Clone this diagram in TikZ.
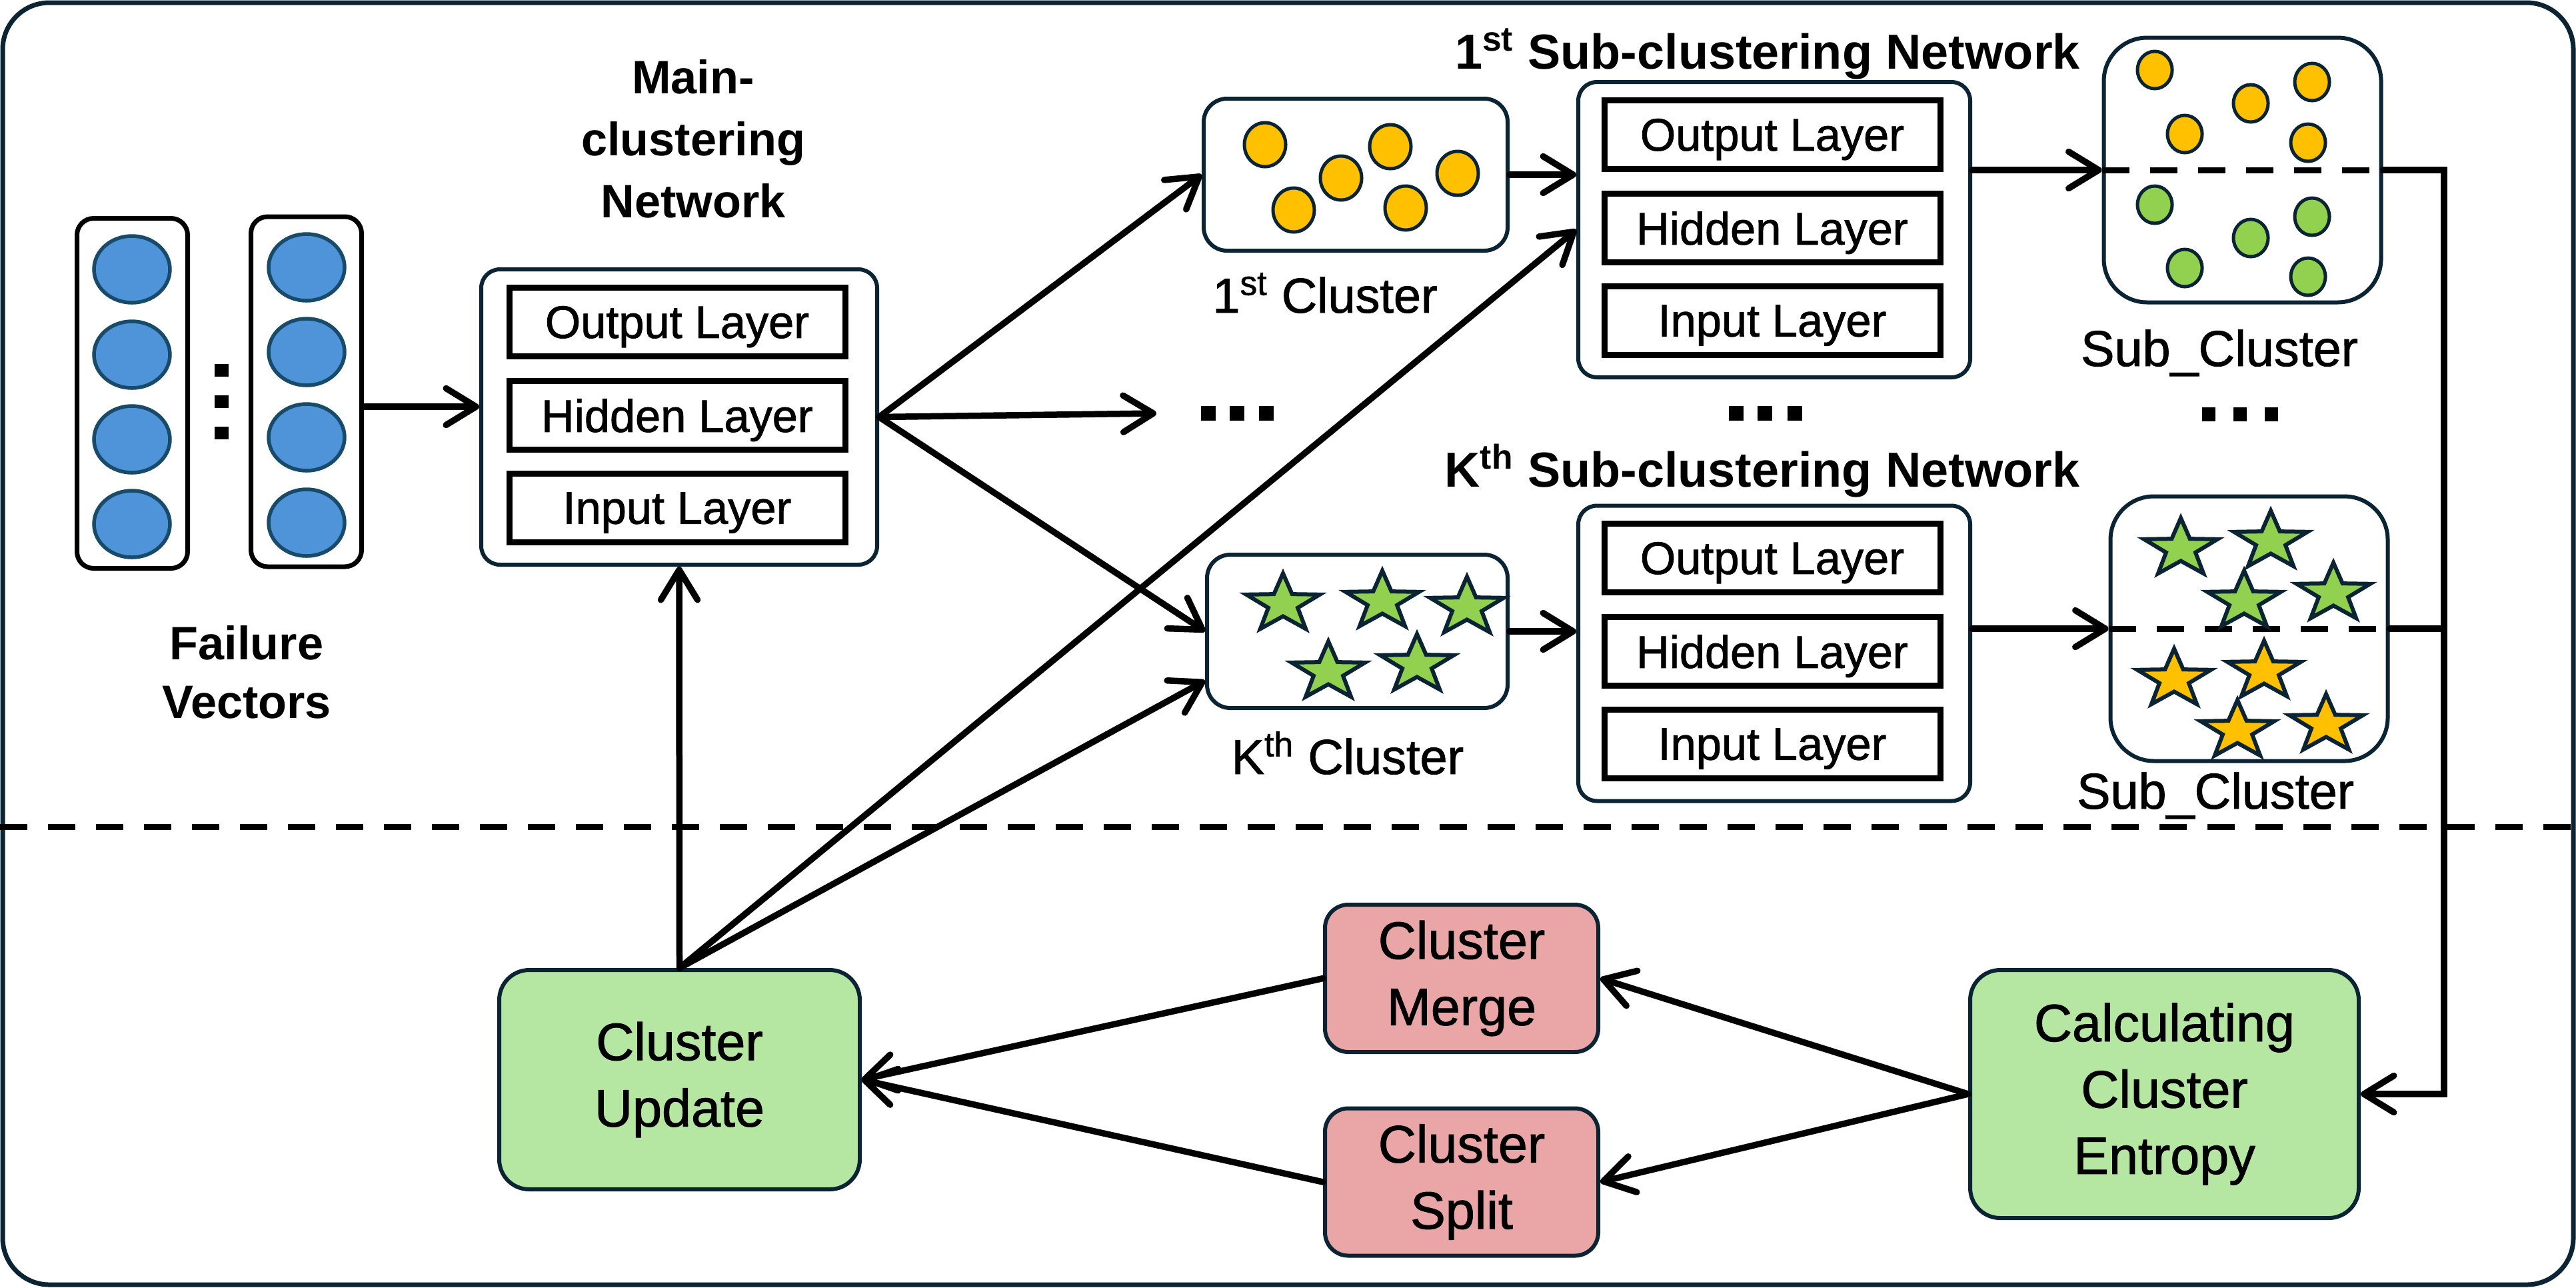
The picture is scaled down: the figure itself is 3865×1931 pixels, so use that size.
\documentclass[tikz,border=0pt]{standalone}
\usepackage{fontspec}
\setmainfont{Liberation Sans}
\newfontfamily\medfont{Liberation Sans}[FakeBold=1.2]
\usetikzlibrary{arrows.meta, positioning, calc}
\definecolor{navy}{HTML}{0A2433}
\definecolor{vecblue}{HTML}{4F94D8}
\definecolor{vecedge}{HTML}{174B69}
\definecolor{dotyellow}{HTML}{FFC000}
\definecolor{dotgreen}{HTML}{92D050}
\definecolor{boxgreen}{HTML}{B5E6A2}
\definecolor{boxpink}{HTML}{EAA6A6}

\begin{document}
\begin{tikzpicture}[x=0.1mm, y=-0.1mm,
  frame/.style={draw=navy, line width=0.7mm, rounded corners=7mm},
  sepline/.style={line width=0.9mm, dash pattern=on 4.1mm off 3.1mm},
  vecbox/.style={draw=black, line width=0.7mm, rounded corners=2.5mm, minimum width=16.6mm, minimum height=52.5mm},
  vecdot/.style={draw=vecedge, line width=0.55mm, fill=vecblue},
  netbox/.style={draw=navy, line width=0.6mm, fill=white, rounded corners=2.8mm, minimum width=58.8mm, minimum height=44.3mm},
  layer/.style={draw=black, line width=0.9mm, fill=white, minimum width=50.4mm, minimum height=10.3mm,
    text depth=0pt, font=\medfont\fontsize{19.5}{23}\selectfont},
  nettitle/.style={font=\bfseries\fontsize{21}{26.5}\selectfont},
  clbox/.style={draw=navy, line width=0.6mm, fill=white, rounded corners=3.5mm},
  subbox/.style={draw=navy, line width=0.6mm, fill=white, rounded corners=6.5mm, minimum width=41.6mm, minimum height=39.7mm},
  clabel/.style={font=\medfont\fontsize{21}{25}\selectfont},
  dotline/.style={draw=navy, line width=0.5mm},
  starline/.style={draw=navy, line width=0.6mm},
  stepbox/.style={draw=navy, line width=0.6mm, rounded corners=4.5mm, align=center,
    font=\medfont\fontsize{22.5}{28.3}\selectfont},
  arr/.style={line width=0.95mm, line cap=round, -{Straight Barb[length=4.5mm, width=5.5mm, round]}},
  link/.style={line width=0.95mm, line cap=round}]

  \useasboundingbox (0,0) rectangle (3865,1931);

  % Outer frame and separator
  \draw[frame] (4,4) rectangle (3861,1927);
  \draw[sepline] (0,1240) -- (3865,1240);

  % Failure vectors
  \node[vecbox] (col1) at (198.5,590) {};
  \node[vecbox] (col2) at (459.5,587.5) {};
  \foreach \y in {404,532,659,786}
    \draw[vecdot] (198,\y) ellipse [x radius=5.7mm, y radius=5mm];
  \foreach \y in {401,528,656,784}
    \draw[vecdot] (460,\y) ellipse [x radius=5.7mm, y radius=5mm];
  \foreach \y in {555,602,649}
    \fill (321.5,\y-9.5) rectangle ++(21,19);
  \node[nettitle, font=\bfseries\fontsize{20}{25}\selectfont, align=center] (fvlab) at (370,1008) {Failure\\Vectors};

  % Main-clustering network
  \node[nettitle, font=\bfseries\fontsize{20}{26.5}\selectfont, align=center] (maintitle) at (1040,208) {Main-\\clustering\\Network};
  \node[netbox, minimum width=59.4mm] (main) at (1019,625.5) {};
  \node[layer] (mainout) at (1016,483) {Output Layer};
  \node[layer] (mainhid) at (1016,623) {Hidden Layer};
  \node[layer] (mainin) at (1016,762) {Input Layer};

  % Clusters
  \node[clbox, minimum width=45.6mm, minimum height=22.8mm] (c1) at (2034,262) {};
  \foreach \x/\y in {1898/217, 2086/220, 2012/267, 2187/260, 1941/315, 2109/312}
    \draw[dotline, fill=dotyellow] (\x,\y) ellipse [x radius=3.1mm, y radius=3.3mm];
  \node[clabel, anchor=base] (c1lab) at (1988,469) {1\textsuperscript{st} Cluster};

  \node[clbox, minimum width=45.1mm, minimum height=23mm] (ck) at (2036.5,947) {};
  \foreach \x/\y in {1925/906, 2074/902, 2201/911, 1993/1008, 2126/997}
    \draw[starline, fill=dotgreen, shift={(\x,\y)}, xscale=58, yscale=-46]
      (90:1) \foreach \a in {1,...,4} {-- (54+72*\a:0.4) -- (90+72*\a:1)} -- (54:0.4) -- cycle;
  \node[clabel, anchor=base] (cklab) at (2022,1161) {K\textsuperscript{th} Cluster};

  \foreach \x in {1813,1856,1900}
    \fill (\x-11,609) rectangle ++(22,22);
  \coordinate (mdots) at (1735,620);

  % Sub-clustering networks
  \node[nettitle, anchor=base] (s1title) at (2652,103) {1\textsuperscript{st} Sub-clustering Network};
  \node[netbox] (s1) at (2662,344.5) {};
  \node[layer] (s1out) at (2659,202) {Output Layer};
  \node[layer] (s1hid) at (2659,342) {Hidden Layer};
  \node[layer] (s1in) at (2659,481) {Input Layer};

  \foreach \x in {2605,2648,2693}
    \fill (\x-11,609) rectangle ++(22,22);

  \node[nettitle, anchor=base] (sktitle) at (2644,730) {K\textsuperscript{th} Sub-clustering Network};
  \node[netbox] (sk) at (2662,980) {};
  \node[layer] (skout) at (2659,837) {Output Layer};
  \node[layer] (skhid) at (2659,977) {Hidden Layer};
  \node[layer] (skin) at (2659,1116) {Input Layer};

  % Sub-clusters
  \node[subbox] (sc1) at (3364.5,255) {};
  \draw[sepline] (sc1.west) -- (sc1.east);
  \foreach \x/\y in {3233/105, 3377/155, 3469/123, 3278/201, 3463/214}
    \draw[dotline, fill=dotyellow] (\x,\y) ellipse [x radius=2.6mm, y radius=2.8mm];
  \foreach \x/\y in {3233/307, 3377/357, 3469/325, 3278/402, 3463/415}
    \draw[dotline, fill=dotgreen] (\x,\y) ellipse [x radius=2.6mm, y radius=2.8mm];
  \node[clabel, font=\medfont\fontsize{21.5}{25}\selectfont, anchor=base] (sc1lab) at (3330,549) {Sub\_Cluster};

  \foreach \x in {3314,3361,3408}
    \fill (\x-10,611) rectangle ++(20,21);

  \node[subbox] (sck) at (3374.5,943) {};
  \draw[sepline] (sck.west) -- (sck.east);
  \foreach \x/\y/\c in {3272/823/dotgreen, 3407/812/dotgreen, 3367/902/dotgreen, 3501/890/dotgreen,
                        3262/1019/dotyellow, 3397/1007/dotyellow, 3357/1096/dotyellow, 3490/1087/dotyellow}
    \draw[starline, fill=\c, shift={(\x,\y)}, xscale=58, yscale=-46]
      (90:1) \foreach \a in {1,...,4} {-- (54+72*\a:0.4) -- (90+72*\a:1)} -- (54:0.4) -- cycle;
  \node[clabel, font=\medfont\fontsize{21.5}{25}\selectfont, anchor=base] (scklab) at (3324,1213) {Sub\_Cluster};

  % Feedback loop
  \node[stepbox, fill=boxgreen, minimum width=54.1mm, minimum height=32.9mm] (upd) at (1019.5,1619.5) {Cluster\\Update};
  \node[stepbox, fill=boxpink, rounded corners=3.5mm, minimum width=41mm, minimum height=22.1mm] (mrg) at (2193,1467.5) {Cluster\\Merge};
  \node[stepbox, fill=boxpink, rounded corners=3.5mm, minimum width=41mm, minimum height=22.1mm] (spl) at (2193,1773) {Cluster\\Split};
  \node[stepbox, fill=boxgreen, minimum width=58.3mm, minimum height=37.2mm] (ent) at (3247.5,1641) {Calculating\\Cluster\\Entropy};
  \coordinate (rail) at (3667,0);

  % Connectors
  \draw[arr] ([yshift=-2.25mm]col2.east) -- ([yshift=-2.25mm]col2.east -| main.west);
  \draw[arr] (main.east) -- (c1.west);
  \draw[arr] (main.east) -- (mdots);
  \draw[arr] (main.east) -- (ck.west);
  \draw[arr] (c1.east) -- (c1.east -| s1.west);
  \draw[arr] (ck.east) -- (ck.east -| sk.west);
  \draw[arr] (s1.east |- sc1.west) -- (sc1.west);
  \draw[arr] (sk.east |- sck.west) -- (sck.west);
  \draw[arr] (upd.north) -- (main.south);
  \draw[arr] (upd.north) -- (s1.west);
  \draw[arr] (upd.north) -- ([yshift=-7.4mm]ck.west);
  \draw[arr] (sc1.east) -- (rail |- sc1.east) -- (rail |- ent.east) -- (ent.east);
  \draw[link] (sck.east) -- (rail |- sck.east);
  \draw[arr] (ent.west) -- (mrg.east);
  \draw[arr] (ent.west) -- (spl.east);
  \draw[arr] (mrg.west) -- (upd.east);
  \draw[arr] (spl.west) -- (upd.east);
\end{tikzpicture}
\end{document}
